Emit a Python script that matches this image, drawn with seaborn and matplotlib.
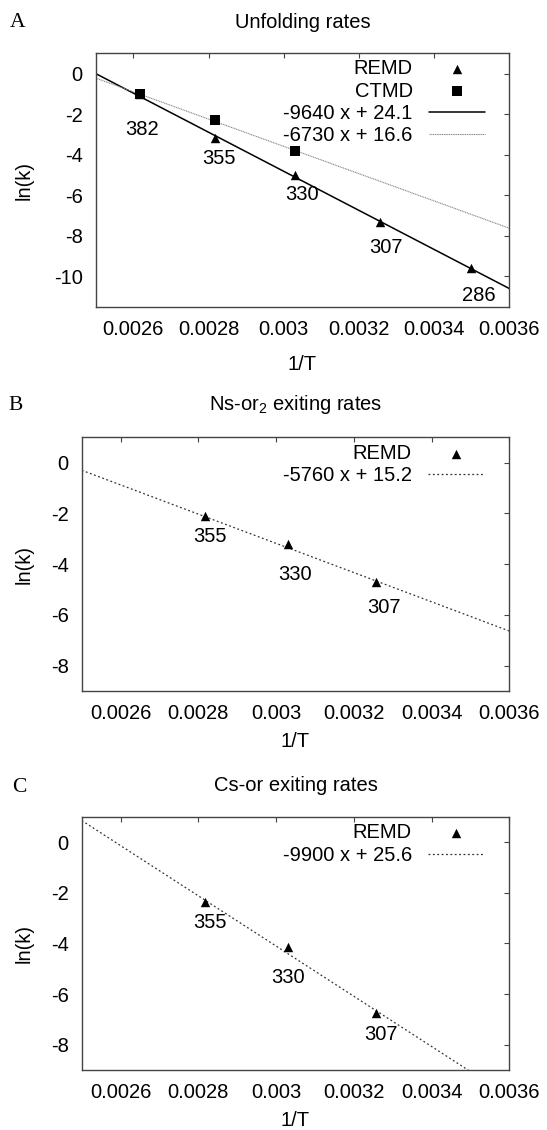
# Arrhenius plots of unfolding / exiting rates (three panels)

import matplotlib
matplotlib.use("Agg")
import matplotlib.pyplot as plt
import seaborn as sns

# Panel A: unfolding rates
temps_a = [382, 355, 330, 307, 286]
inv_t_a = [0.002618, 0.002817, 0.003030, 0.003257, 0.003497]
lnk_remd_a = [-1.0, -3.2, -5.0, -7.3, -9.6]
inv_t_ctmd_a = [0.002618, 0.002817, 0.003030]
lnk_ctmd_a = [-1.0, -2.3, -3.8]
fit_slopes_a = [-9640, -6730]
fit_intercepts_a = [24.1, 16.6]
fit_labels_a = ["-9640 x + 24.1", "-6730 x + 16.6"]

# Panel B: Ns-or2 exiting rates
temps_b = [355, 330, 307]
inv_t_b = [0.002817, 0.003030, 0.003257]
lnk_b = [-2.1, -3.2, -4.7]
fit_slope_b = -5760
fit_intercept_b = 14.1   # line as drawn in the figure
fit_label_b = "-5760 x + 15.2"

# Panel C: Cs-or exiting rates
temps_c = [355, 330, 307]
inv_t_c = [0.002817, 0.003030, 0.003257]
lnk_c = [-2.35, -4.15, -6.75]
fit_slope_c = -9900
fit_intercept_c = 25.6
fit_label_c = "-9900 x + 25.6"

x_ticks = [0.0026, 0.0028, 0.003, 0.0032, 0.0034, 0.0036]

sns.set_style("white")
plt.rcParams["font.family"] = ["Liberation Sans", "DejaVu Sans"]
plt.rcParams["text.color"] = "black"
plt.rcParams["axes.labelcolor"] = "black"
plt.rcParams["axes.unicode_minus"] = False
plt.rcParams["mathtext.fontset"] = "custom"
plt.rcParams["mathtext.rm"] = "Liberation Sans"
plt.rcParams["mathtext.it"] = "Liberation Sans"
plt.rcParams["mathtext.default"] = "rm"

FS = 14.5
W, H = 547, 1130
PX = 0.72  # points per pixel at dpi 100


def add_axes_px(fig, left, top, right, bottom):
    return fig.add_axes([left / W, 1 - bottom / H, (right - left) / W, (bottom - top) / H])


def style_axes(ax, ylim, yticks, ylab_x, xlab_y):
    ax.set_xlim(0.0025, 0.0036)
    ax.set_ylim(*ylim)
    ax.set_xticks(x_ticks)
    ax.set_xticklabels(["%g" % v for v in x_ticks])
    ax.set_yticks(yticks)
    ax.set_yticklabels(["%g" % v for v in yticks])
    ax.tick_params(direction="in", length=3.6, width=0.8, color="#444444",
                   top=True, right=True, labelsize=FS, pad=9.5, labelcolor="black")
    for s in ax.spines.values():
        s.set_visible(True)
        s.set_color("#444444")
        s.set_linewidth(1.0)
    ax.set_xlabel("1/T", fontsize=FS, va="top")
    ax.set_ylabel("ln(k)", fontsize=FS)
    ax.xaxis.set_label_coords(0.5, xlab_y)
    ax.yaxis.set_label_coords(ylab_x, 0.5)


def label_points(ax, xs, ys, temps, offsets):
    for x, y, t, (dx, dy) in zip(xs, ys, temps, offsets):
        ax.annotate(str(t), (x, y), xytext=(dx * PX, -dy * PX), textcoords="offset points",
                    ha="center", va="center", fontsize=FS)


def add_legend(ax, top):
    return ax.legend(loc="upper right", bbox_to_anchor=(0.942, top), frameon=False,
                     markerfirst=False, fontsize=FS, handlelength=2.8, handletextpad=0.8,
                     labelspacing=0.17, borderaxespad=0, borderpad=0)


fig = plt.figure(figsize=(W / 100, H / 100), dpi=100)

# ---- A ----
ax = add_axes_px(fig, 95.7, 53.3, 509.3, 306.7)
sns.scatterplot(x=inv_t_a, y=lnk_remd_a, marker="^", s=46, color="black", linewidth=0,
                ax=ax, label="REMD", zorder=3)
sns.scatterplot(x=inv_t_ctmd_a, y=lnk_ctmd_a, marker="s", s=46, color="black", linewidth=0,
                ax=ax, label="CTMD", zorder=3)
ax.axline((0, fit_intercepts_a[0]), slope=fit_slopes_a[0], color="black", lw=1.1,
          label=fit_labels_a[0], zorder=2)
ax.axline((0, fit_intercepts_a[1]), slope=fit_slopes_a[1], color="#888888", lw=0.8,
          ls=(0, (1, 0.6)), label=fit_labels_a[1], zorder=2)
style_axes(ax, (-11.5, 1), [-10, -8, -6, -4, -2, 0], -0.149, -0.189)
label_points(ax, inv_t_a, lnk_remd_a, temps_a, [(2, 36), (4, 20), (7, 20), (5.5, 26), (8, 27)])
add_legend(ax, 0.977)
ax.set_title("Unfolding rates", fontsize=FS, pad=18.0)
fig.text(10 / W, 1 - 22.5 / H, "A", family="Liberation Serif", fontsize=15.5, ha="left", va="center")

# ---- B ----
ax = add_axes_px(fig, 81.7, 437.3, 509.3, 691)
sns.scatterplot(x=inv_t_b, y=lnk_b, marker="^", s=46, color="black", linewidth=0,
                ax=ax, label="REMD", zorder=3)
ax.axline((0, fit_intercept_b), slope=fit_slope_b, color="#333333", lw=0.9,
          ls=(0, (1.5, 2)), label=fit_label_b, zorder=2)
style_axes(ax, (-9, 1), [-8, -6, -4, -2, 0], -0.1116, -0.162)
label_points(ax, inv_t_b, lnk_b, temps_b, [(4.6, 21), (7.6, 31), (8, 26)])
add_legend(ax, 0.974)
ax.set_title("Ns-or$_2$ exiting rates", fontsize=FS, pad=20)
fig.text(8 / W, 1 - 405 / H, "B", family="Liberation Serif", fontsize=15.5, ha="left", va="center")

# ---- C ----
ax = add_axes_px(fig, 81.7, 816.7, 509.3, 1070.3)
sns.scatterplot(x=inv_t_c, y=lnk_c, marker="^", s=46, color="black", linewidth=0,
                ax=ax, label="REMD", zorder=3)
ax.axline((0, fit_intercept_c), slope=fit_slope_c, color="#333333", lw=0.9,
          ls=(0, (1.5, 2)), label=fit_label_c, zorder=2)
style_axes(ax, (-9, 1), [-8, -6, -4, -2, 0], -0.1116, -0.162)
label_points(ax, inv_t_c, lnk_c, temps_c, [(4.6, 21), (0, 30), (4.6, 21)])
add_legend(ax, 0.974)
ax.set_title("Cs-or exiting rates", fontsize=FS, pad=18.7)
fig.text(12 / W, 1 - 787 / H, "C", family="Liberation Serif", fontsize=15.5, ha="left", va="center")

fig.savefig("out.png", dpi=100)
